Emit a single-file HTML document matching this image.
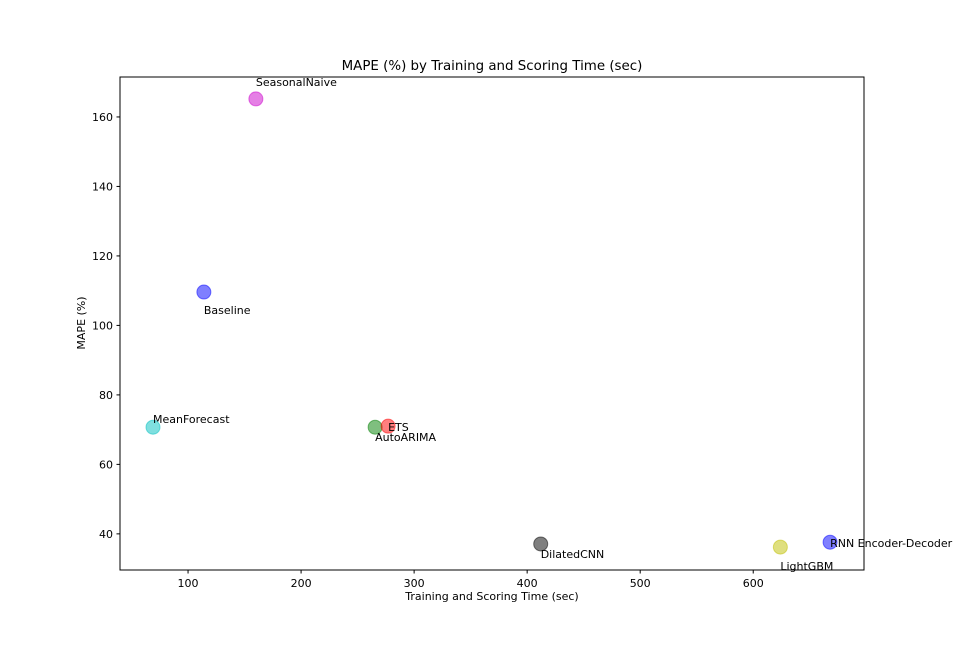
<!DOCTYPE html>
<html><head><meta charset="utf-8"><style>
body{margin:0;background:#fff}
text{font-family:"DejaVu Sans","Liberation Sans",sans-serif;fill:#000}
</style></head><body>
<svg width="960" height="640">
<g id="axes"></g>
<script>
const models=["SeasonalNaive","Baseline","MeanForecast","AutoARIMA","ETS","DilatedCNN","LightGBM","RNN Encoder-Decoder"];
const timeSec=[160,114,69,265.5,277,412,624,668];
const mape=[165.2,109.6,70.7,70.7,71,37.1,36.2,37.6];
const colors=["#cc00cc","#0000ff","#00bfbf","#008000","#ff0000","#000000","#bfbf00","#0000ff"];
const labelDx=[0,0,0,0,0,0,0,0];
const labelDy=[-13,22,-4,14,5,14,23,5];
const xTicks=[100,200,300,400,500,600];
const yTicks=[40,60,80,100,120,140,160];
const L=120,R=864,T=77,B=570,xmin=39.8,xmax=698,ymin=29.6,ymax=171.5;
const sx=v=>L+(v-xmin)/(xmax-xmin)*(R-L);
const sy=v=>B-(v-ymin)/(ymax-ymin)*(B-T);
const NS="http://www.w3.org/2000/svg";
const g=document.getElementById("axes");
function mk(t,a,txt){const e=document.createElementNS(NS,t);for(const k in a)e.setAttribute(k,a[k]);if(txt!==undefined)e.textContent=txt;g.appendChild(e);return e;}
let e=mk("rect",{x:L,y:T,width:R-L,height:B-T,fill:"none",stroke:"#000","stroke-width":1});


xTicks.forEach(v=>{const x=sx(v);
let t=mk("line",{x1:x,x2:x,y1:B,y2:B+3.5,stroke:"#000"});


let l=mk("text",{x:x,y:B+17,"text-anchor":"middle","font-size":"11"},v);

});
yTicks.forEach(v=>{const y=sy(v);
let t=mk("line",{x1:L-3.5,x2:L,y1:y,y2:y,stroke:"#000"});


let l=mk("text",{x:L-7,y:y+4,"text-anchor":"end","font-size":"11"},v);

});
models.forEach((m,i)=>{const x=sx(timeSec[i]),y=sy(mape[i]);
let c=mk("circle",{cx:x,cy:y,r:7,fill:colors[i],"fill-opacity":0.5,stroke:colors[i],"stroke-opacity":0.5});


let t=mk("text",{x:x+labelDx[i],y:y+labelDy[i],"font-size":"11"},m);

});
e=mk("text",{x:492,y:70,"text-anchor":"middle","font-size":"13.4"},"MAPE (%) by Training and Scoring Time (sec)");


e=mk("text",{x:492,y:600,"text-anchor":"middle","font-size":"11"},"Training and Scoring Time (sec)");


e=mk("text",{x:85,y:323,"text-anchor":"middle","font-size":"11",transform:"rotate(-90 85 323)"},"MAPE (%)");


</script>
</svg>
</body></html>
